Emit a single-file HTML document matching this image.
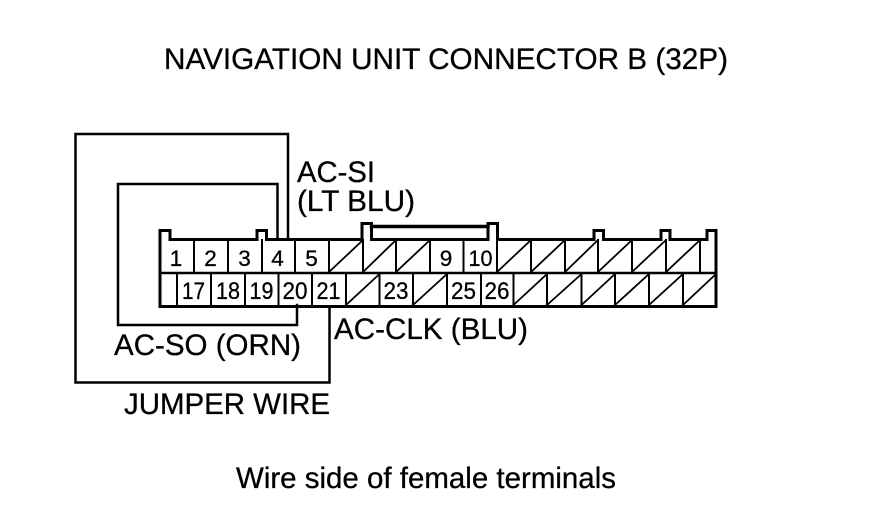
<!DOCTYPE html>
<html><head><meta charset="utf-8"><style>
html,body{margin:0;padding:0;background:#fff}
svg{display:block}
text{font-family:"Liberation Sans",sans-serif;fill:#000;stroke:#000;stroke-width:.3px}
.l{font-size:29.500px}
.n{font-size:22.500px;text-anchor:middle}
.m{font-size:24px;text-anchor:middle}
</style></head><body>
<svg width="880" height="524" viewBox="0 0 880 524" xmlns="http://www.w3.org/2000/svg">
<g fill="none" stroke="#000" stroke-linecap="square">
<!-- outer jumper wire -->
<path stroke-width="2.5" d="M288 239V134H75.500V382.500H329.500V308"/>
<!-- inner jumper wire -->
<path stroke-width="2.5" d="M277.500 239V184H118V325H297V305"/>
<!-- connector outline -->
<path stroke-width="3" d="M160 306.500V230.500H170V239.500H257V230.500H266.500V239.500H362V223.500H371.500V239.500H488V223.500H497.500V239.500H594V230.500H603.500V239.500H661V230.500H670V239.500H707V230.500H716V306.500Z"/>
<path stroke-width="3.500" d="M371.500 226.500H488"/>
<path stroke-width="2.500" d="M160 273H716"/>
<!-- top dividers -->
<path stroke-width="2" d="M194 240V272M228 240V272M262 240V272M295 240V272M329 240V272M363 240V272M396 240V272M430 240V272M463.500 240V272M497 240V272M531 240V272M565 240V272M598 240V272M632 240V272M666 240V272M700 240V272"/>
<!-- bottom dividers -->
<path stroke-width="2" d="M177 274V305M211 274V305M245 274V305M278.500 274V305M312 274V305M346 274V305M379.500 274V305M413 274V305M447 274V305M481 274V305M513.500 274V305M547 274V305M581.500 274V305M615 274V305M649 274V305M683 274V305"/>
<!-- diagonals -->
<path stroke-width="1.800" d="M329 272L363 240M363 272L396 240M396 272L430 240M497 272L531 240M531 272L565 240M565 272L598 240M598 272L632 240M632 272L666 240M666 272L700 240"/>
<path stroke-width="1.800" d="M346 305L379.500 274M413 305L447 274M513.500 305L547 274M547 305L581.500 274M581.500 305L615 274M615 305L649 274M649 305L683 274M683 305L716 274"/>
</g>
<text class="l" x="164" y="69" textLength="564" lengthAdjust="spacingAndGlyphs">NAVIGATION UNIT CONNECTOR B (32P)</text>
<text class="l" x="297" y="182" textLength="78" lengthAdjust="spacingAndGlyphs">AC-SI</text>
<text class="l" x="297" y="211" textLength="118" lengthAdjust="spacingAndGlyphs">(LT BLU)</text>
<text class="l" x="334" y="339" textLength="194" lengthAdjust="spacingAndGlyphs">AC-CLK (BLU)</text>
<text class="l" x="114" y="355" textLength="187" lengthAdjust="spacingAndGlyphs">AC-SO (ORN)</text>
<text class="l" x="124" y="414" textLength="206" lengthAdjust="spacingAndGlyphs">JUMPER WIRE</text>
<text class="l" x="236" y="488" textLength="380" lengthAdjust="spacingAndGlyphs">Wire side of female terminals</text>
<g>
<text class="n" x="176" y="266">1</text>
<text class="n" x="210.500" y="266">2</text>
<text class="n" x="244.500" y="266">3</text>
<text class="n" x="277.500" y="266">4</text>
<text class="n" x="311.500" y="266">5</text>
<text class="n" x="446" y="266">9</text>
<text class="n" x="480.500" y="266" textLength="24" lengthAdjust="spacingAndGlyphs">10</text>
<text class="m" x="193.500" y="299" textLength="23" lengthAdjust="spacingAndGlyphs">17</text>
<text class="m" x="228" y="299" textLength="24" lengthAdjust="spacingAndGlyphs">18</text>
<text class="m" x="261.500" y="299" textLength="24" lengthAdjust="spacingAndGlyphs">19</text>
<text class="m" x="295" y="299" textLength="25" lengthAdjust="spacingAndGlyphs">20</text>
<text class="m" x="328.500" y="299" textLength="24" lengthAdjust="spacingAndGlyphs">21</text>
<text class="m" x="396" y="299" textLength="25" lengthAdjust="spacingAndGlyphs">23</text>
<text class="m" x="463.500" y="299" textLength="25" lengthAdjust="spacingAndGlyphs">25</text>
<text class="m" x="497" y="299" textLength="25" lengthAdjust="spacingAndGlyphs">26</text>
</g>
</svg>
</body></html>
